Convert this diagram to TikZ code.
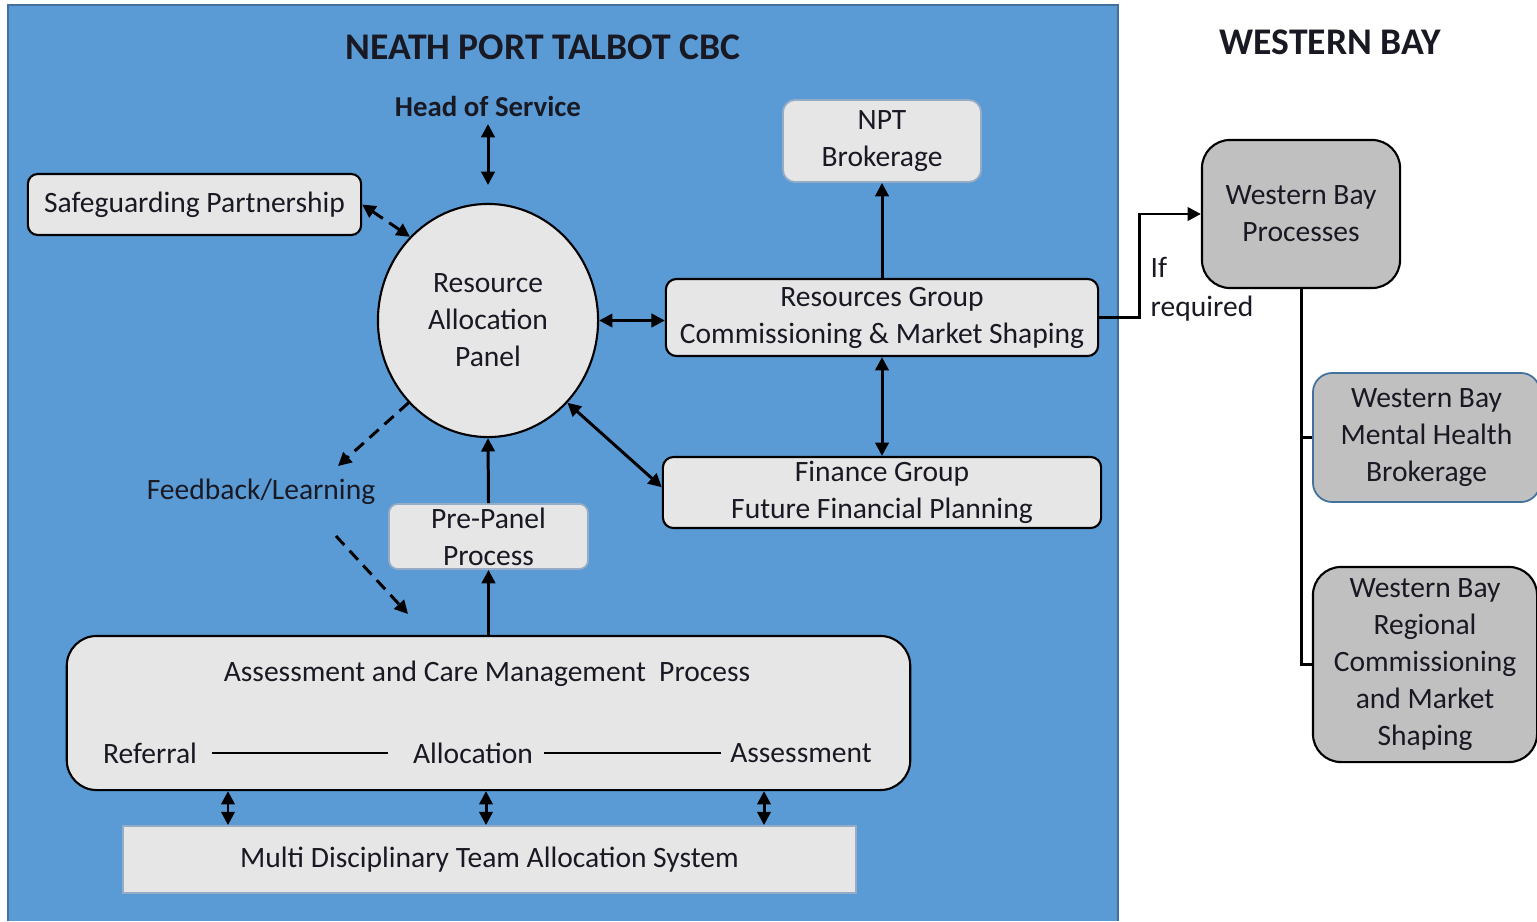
\documentclass[tikz,border=0pt]{standalone}
\usepackage{fontspec}
\setmainfont{Carlito}
\usetikzlibrary{arrows.meta,shapes.geometric}
\definecolor{nptblue}{RGB}{91,155,213}
\definecolor{nptedge}{RGB}{65,113,156}
\definecolor{boxfill}{RGB}{230,230,230}
\definecolor{wbfill}{RGB}{192,192,192}
\definecolor{softedge}{RGB}{150,172,198}
\definecolor{ink}{RGB}{25,25,35}

\begin{document}
\begin{tikzpicture}[x=0.01cm,y=-0.01cm,
  >={Triangle[length=3.8pt,width=3.8pt]},
  every node/.style={font=\fontsize{8.4}{10.5}\selectfont, text=ink, inner sep=0pt, align=center},
  head/.style={font=\fontsize{10.7}{12.5}\selectfont\bfseries},
  box/.style={draw=black, line width=0.6pt, fill=boxfill, rounded corners=#1},
  box/.default=3pt,
  softbox/.style={draw=softedge, line width=0.5pt, fill=boxfill, rounded corners=#1},
  softbox/.default=3pt,
  wbbox/.style={draw=black, line width=0.6pt, fill=wbfill, rounded corners=#1},
  wbbox/.default=8pt,
  conn/.style={line width=0.85pt, draw=black},
  dashconn/.style={conn, dash pattern=on 3.5pt off 2.2pt},
  thinline/.style={line width=0.6pt, draw=black}
]
\useasboundingbox (0,0) rectangle (1537,921);

% council area
\fill[nptblue] (8,5) rectangle (1118,921);
\draw[nptedge, line width=0.5pt] (8,921) -- (8,5) -- (1118,5) -- (1118,921);

% headings
\node[head] (title) at (543,47) {NEATH PORT TALBOT CBC};
\node[head] (wbtitle) at (1330,42) {WESTERN BAY};
\node[font=\fontsize{8.2}{10}\selectfont\bfseries] (hos) at (488,106) {Head of Service};

% council nodes
\node[box=2.8pt, minimum width=3.33cm, minimum height=0.61cm] (sg) at (194.5,204.5) {Safeguarding Partnership};
\node[ellipse, draw=black, line width=0.6pt, fill=boxfill, minimum width=2.2cm, minimum height=2.33cm] (rap) at (488,320.5) {Resource\\Allocation\\Panel};
\node[softbox=3.5pt, minimum width=1.98cm, minimum height=0.82cm] (npt) at (882,141) {NPT\\Brokerage};
\node[box, minimum width=4.32cm, minimum height=0.77cm] (res) at (882,317.5) {Resources Group\\Commissioning \& Market Shaping};
\node[box, minimum width=4.38cm, minimum height=0.71cm] (fin) at (882,492.5) {Finance Group\\Future Financial Planning};
\node[softbox=2.5pt, minimum width=1.99cm, minimum height=0.65cm] (pp) at (488.5,536.5) {Pre-Panel\\Process};
\node (fb) at (261,492) {Feedback/Learning};

\node[box=8.5pt, minimum width=8.43cm, minimum height=1.54cm] (acm) at (488.5,713) {};
\node (acmtitle) at (487,674) {Assessment and Care Management\ \ Process};
\node (ref) at (150,753) {Referral};
\node (alloc) at (473,753) {Allocation};
\node (asmt) at (801,753) {Assessment};
\node[softbox=0pt, minimum width=7.33cm, minimum height=0.67cm] (mdt) at (489.5,859.5) {Multi Disciplinary Team Allocation System};

% regional nodes
\node[wbbox, minimum width=1.98cm, minimum height=1.48cm] (wbp) at (1301,214) {Western Bay\\Processes};
\node[wbbox=5.5pt, draw=nptedge, line width=0.5pt, minimum width=2.27cm, minimum height=1.29cm] (wbmh) at (1426.5,437.5) {Western Bay\\Mental Health\\Brokerage};
\node[wbbox, minimum width=2.24cm, minimum height=1.95cm] (wbr) at (1425,664.5) {Western Bay\\Regional\\Commissioning\\and Market\\Shaping};
\node[anchor=west, align=left, font=\fontsize{8.4}{11}\selectfont] (ifreq) at (1150,289.5) {If\\required};

% free ends
\coordinate (hosend) at (488,185);
\coordinate (fbin) at (338,466);
\coordinate (fbout1) at (336,536);
\coordinate (fbout2) at (408,614);

% connectors
\draw[conn, <->] ([yshift=-2pt]hos.south) -- (hosend);
\draw[dashconn, <->] (sg.east) -- (rap.133);
\draw[dashconn, ->] (rap.226) -- (fbin);
\draw[dashconn, ->] (fbout1) -- (fbout2);
\draw[conn, <->] (rap.east) -- (rap.east -| res.west);
\draw[conn, ->] (res.north) -- (npt.south);
\draw[conn, <->] (res.south) -- (fin.north);
\draw[conn, <->] (rap.314) -- ([yshift=1.5pt]fin.west);
\draw[conn, ->] (pp.north) -- (rap.south);
\draw[conn, ->] (acm.north) -- (pp.south);

% process steps inside the assessment box
\draw[thinline] ([xshift=4pt]ref.east) -- ([xshift=-7pt]alloc.west);
\draw[thinline] ([xshift=3pt]alloc.east) -- ([xshift=-2.5pt]asmt.west);

\draw[conn, <->] ([shift={(-260.5,0)}]acm.south) -- ([shift={(-261.5,0)}]mdt.north);
\draw[conn, <->] ([shift={(-2.5,0)}]acm.south) -- ([shift={(-3.5,0)}]mdt.north);
\draw[conn, <->] ([shift={(275.5,0)}]acm.south) -- ([shift={(274.5,0)}]mdt.north);

\draw[conn, ->] (res.east) -- ++(40,0) |- (wbp.west);
\draw[conn] (wbp.south) -- (wbp.south |- wbr.west) -- (wbr.west);
\draw[conn] (wbp.south |- wbmh.west) -- (wbmh.west);
\end{tikzpicture}
\end{document}
